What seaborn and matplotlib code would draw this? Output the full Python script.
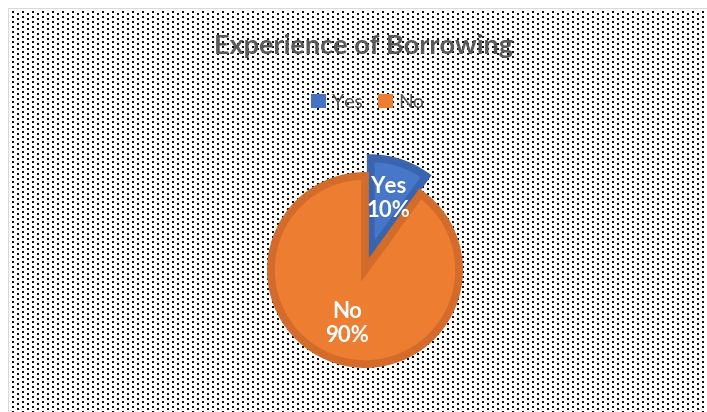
import numpy as np
import matplotlib
matplotlib.use("Agg")
import matplotlib.pyplot as plt
import seaborn as sns

# ---- data ----
categories = ["Yes", "No"]
values = [10, 90]
colors = ["#4677C9", "#ED7D31"]
edge_colors = ["#3A64AE", "#D36C2A"]
title = "Experience of Borrowing"

sns.set_theme(style="white")
plt.rcParams['font.family'] = ['Lato', 'DejaVu Sans']

W, H, DPI = 707, 412, 100
fig = plt.figure(figsize=(W / DPI, H / DPI), dpi=DPI, facecolor="white")

# ---- dotted pattern background (Excel-like pattern fill) ----
bg = np.full((H, W, 3), 255, dtype=np.uint8)
x0, y0 = 9, 9
for cx in range(x0 + 3, W, 5):
    off = 0 if ((cx - x0) // 5) % 2 == 0 else 2
    for cy in range(y0 + 2 + off, H, 5):
        bg[cy:cy + 2, cx:cx + 2] = 5
bg[y0 - 1, x0 - 1:] = 217
bg[y0 - 1:, x0 - 1] = 217
fig.figimage(bg, xo=0, yo=0, origin="upper", zorder=-10)

# ---- pie ----
cx_px, cy_px, r_px, half = 365, 270, 98, 135
ax = fig.add_axes([(cx_px - half) / W, (H - cy_px - half) / H, 2 * half / W, 2 * half / H])
ax.set_zorder(5)
ax.set_axis_off()
ax.patch.set_alpha(0)

lab_iter = iter(categories)
wedges, texts, autotexts = ax.pie(
    values, colors=colors, startangle=90, counterclock=False,
    explode=[0.19, 0], radius=0.96, pctdistance=0.6,
    autopct=lambda p: f"{next(lab_iter)}\n{p:.0f}%",
    wedgeprops=dict(linewidth=5.6),
    textprops=dict(color="white", fontsize=16, fontweight="bold", linespacing=1.2),
)
for w, ec in zip(wedges, edge_colors):
    w.set_edgecolor(ec)
    w.set_joinstyle("miter")
ax.set_xlim(-half / r_px, half / r_px)
ax.set_ylim(-half / r_px, half / r_px)

# ---- title ----
fig.text(363 / W, 1 - 46 / H, title, ha="center", va="center",
         fontsize=19.5, fontweight="bold", color="#595959", zorder=6)

# ---- legend ----
leg = fig.legend(wedges, categories, loc="center", bbox_to_anchor=(368 / W, 1 - 102 / H),
                 ncol=2, frameon=False, handlelength=0.75, handleheight=0.75,
                 handletextpad=0.3, columnspacing=0.8, fontsize=14)
leg.set_zorder(6)
for t in leg.get_texts():
    t.set_color("#595959")
for h, c in zip(leg.legend_handles, ["#4472C4", "#ED7D31"]):
    h.set_linewidth(0)
    h.set_facecolor(c)

fig.savefig("out.png", dpi=DPI)
